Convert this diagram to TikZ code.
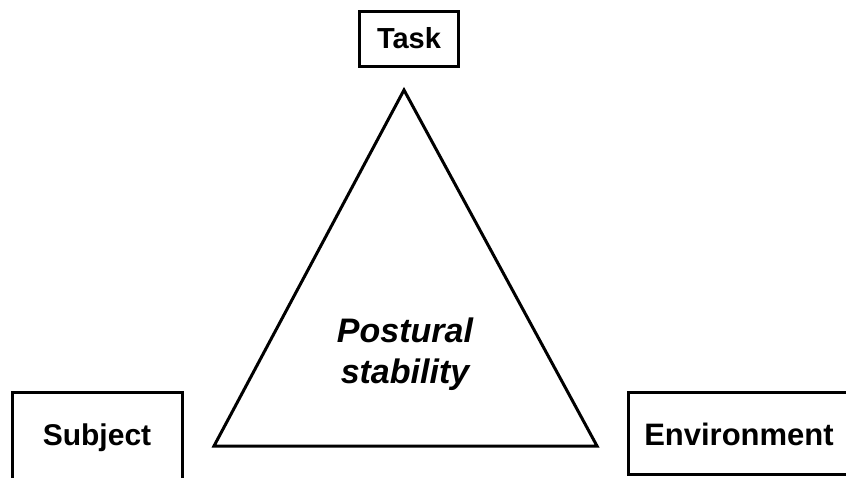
\documentclass[tikz,border=0pt]{standalone}
\usepackage{fontspec}
\setmainfont{Liberation Sans}
\begin{document}
\begin{tikzpicture}[x=1pt,y=-1pt,
  frame/.style={draw=black, line width=3pt, inner sep=0pt},
  lbl/.style={font=\bfseries\fontsize{30}{36}\selectfont, anchor=base, inner sep=0pt},
  mid/.style={font=\bfseries\itshape\fontsize{34}{41}\selectfont, anchor=base, inner sep=0pt}]
\useasboundingbox (0,0) rectangle (846,477);
\clip (0,0) rectangle (846,477);
% boxes
\node[frame, minimum width=99pt, minimum height=55pt] (taskbox) at (408.5,38.5) {};
\node[frame, minimum width=170pt, minimum height=110pt] (subjbox) at (97.5,447) {};
\node[frame, minimum width=240pt, minimum height=82pt] (envbox) at (748,433.5) {};
% labels
\node[lbl, font=\bfseries\fontsize{29}{35}\selectfont] (task) at (409,48) {Task};
\node[lbl] (subj) at (97,445) {Subject};
\node[lbl, font=\bfseries\fontsize{31}{37}\selectfont] (env) at (739,445) {Environment};
% triangle
\coordinate (apex) at (404,90);
\coordinate (bl) at (214,446);
\coordinate (br) at (597,446);
\draw[line width=3pt, line join=miter] (apex) -- (bl) -- (br) -- cycle;
\node[mid] (p1) at (405,342) {Postural};
\node[mid] (p2) at (405,383) {stability};
\end{tikzpicture}
\end{document}
